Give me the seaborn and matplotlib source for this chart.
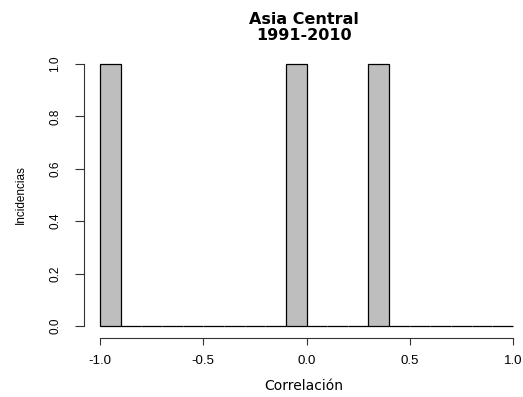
import matplotlib
matplotlib.use("Agg")
import matplotlib.pyplot as plt
import pandas as pd
import seaborn as sns

# histogram bins (width 0.1 from -1 to 1) and counts per bin
bin_edges = [round(-1.0 + 0.1 * i, 2) for i in range(21)]
counts = [1, 0, 0, 0, 0, 0, 0, 0, 0, 1, 0, 0, 0, 1, 0, 0, 0, 0, 0, 0]

x_ticks = [-1.0, -0.5, 0.0, 0.5, 1.0]
y_ticks = [0.0, 0.2, 0.4, 0.6, 0.8, 1.0]

df = pd.DataFrame({
    "center": [(a + b) / 2 for a, b in zip(bin_edges[:-1], bin_edges[1:])],
    "count": counts,
})

sns.set_style("white")
plt.rcParams["font.family"] = ["Liberation Sans", "DejaVu Sans"]
plt.rcParams.update({"text.color": "black", "axes.labelcolor": "black",
                     "xtick.color": "black", "ytick.color": "black"})
WIDE = ["DejaVu Sans"]

fig = plt.figure(figsize=(5.23, 3.97), dpi=100)
ax = fig.add_axes([84 / 523, 60.5 / 397, 439 / 523, 283 / 397])

sns.histplot(data=df, x="center", weights="count", bins=bin_edges,
             stat="count", color="#BEBEBE", edgecolor="black",
             linewidth=0.9, alpha=1, ax=ax)

ax.set_xlim(-1.0775, 1.0484)
ax.set_ylim(-0.04, 1.04)
ax.set_xticks(x_ticks)
ax.set_xticklabels([f"{v:.1f}" for v in x_ticks], family=WIDE)
ax.set_yticks(y_ticks)
ax.set_yticklabels([f"{v:.1f}" for v in y_ticks], rotation=90, va="center")

for s in ["top", "right"]:
    ax.spines[s].set_visible(False)
ax.spines["left"].set_bounds(0, 1)
ax.spines["bottom"].set_bounds(-1, 1)
ax.spines["bottom"].set_position(("outward", 1))
for s in ["left", "bottom"]:
    ax.spines[s].set_color("#333333")
    ax.spines[s].set_linewidth(0.8)
ax.tick_params(axis="x", direction="out", length=5, width=0.8,
               color="#333333", pad=7, bottom=True, labelsize=9.5)
ax.tick_params(axis="y", direction="out", length=6.5, width=0.8,
               color="#333333", pad=10, left=True, labelsize=8.5)

ax.set_xlabel("Correlación", family=WIDE, fontsize=10, labelpad=9)
ax.set_ylabel("Incidencias", fontsize=8.5, labelpad=16)
ax.set_title("Asia Central\n1991-2010", family=WIDE, fontsize=11.5,
             fontweight="bold", pad=10, linespacing=1.05, color="black")

fig.savefig("out.png", dpi=100)
